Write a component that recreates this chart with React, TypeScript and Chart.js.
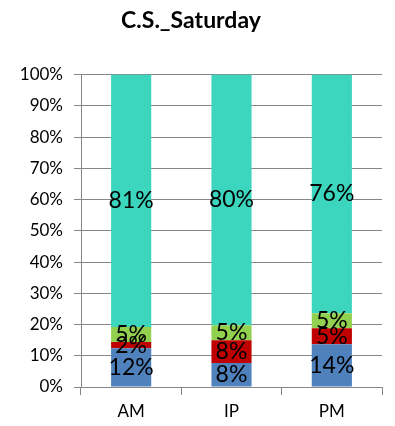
import React, { useEffect, useRef } from "react";
import { Chart, registerables } from "chart.js";

Chart.register(...registerables);

const categories = ["AM", "IP", "PM"];
const seriesNames = ["S1", "S2", "S3", "S4"];
const blueValues = [12.4, 7.7, 13.7];
const redValues = [2.0, 7.3, 5.1];
const greenValues = [4.8, 4.8, 4.8];
const tealValues = [80.8, 80.2, 76.4];
const blueLabels = ["12%", "8%", "14%"];
const redLabels = ["2%", "8%", "5%"];
const greenLabels = ["5%", "5%", "5%"];
const tealLabels = ["81%", "80%", "76%"];
const colors = ["#4F81BD", "#C00000", "#92D050", "#3CD5BE"];
const FONT = "Lato, 'Open Sans', sans-serif";

const segLabelPlugin = {
  id: "segLabels",
  afterDatasetsDraw(chart: any) {
    const ctx = chart.ctx;
    ctx.save();
    ctx.font = `23px ${FONT}`;
    ctx.fillStyle = "#000";
    ctx.textAlign = "center";
    ctx.textBaseline = "middle";
    chart.data.datasets.forEach((ds: any, i: number) => {
      const meta = chart.getDatasetMeta(i);
      meta.data.forEach((el: any, j: number) => {
        const y = (el.y + el.base) / 2;
        ctx.fillText(ds.segLabels[j], el.x, y);
      });
    });
    ctx.restore();
  },
};

export default function App() {
  const ref = useRef<HTMLCanvasElement>(null);
  useEffect(() => {
    const values = [blueValues, redValues, greenValues, tealValues];
    const labels = [blueLabels, redLabels, greenLabels, tealLabels];
    const chart = new Chart(ref.current!, {
      type: "bar",
      data: {
        labels: categories,
        datasets: values.map((v, i) => ({
          label: seriesNames[i],
          data: v,
          backgroundColor: colors[i],
          borderWidth: 0,
          barPercentage: 0.8,
          categoryPercentage: 0.5,
          segLabels: labels[i],
        })) as any,
      },
      options: {
        animation: false,
        responsive: false,
        layout: { padding: { left: 0, right: 13, bottom: 0, top: 0 } },
        plugins: {
          legend: { display: false },
          tooltip: { enabled: false },
          title: {
            display: true,
            text: "C.S._Saturday",
            color: "#000",
            font: { family: FONT, size: 23, weight: "bold" },
            padding: { top: 7, bottom: 40 },
          },
        },
        scales: {
          x: {
            stacked: true,
            grid: {
              offset: true,
              drawOnChartArea: false,
              color: "#868686",
              tickLength: 8,
            },
            border: { color: "#868686" },
            ticks: {
              color: "#000",
              font: { family: FONT, size: 17 },
              padding: 6,
            },
            afterFit: (s: any) => {
              s.height = 39;
            },
          },
          y: {
            stacked: true,
            min: 0,
            max: 100,
            grid: { color: "#868686", tickLength: 7 },
            border: { color: "#868686" },
            ticks: {
              stepSize: 10,
              color: "#000",
              font: { family: FONT, size: 17 },
              padding: 11,
              callback: (v: any) => v + "%",
            },
            afterFit: (s: any) => {
              s.width = 81;
            },
          },
        },
      },
      plugins: [segLabelPlugin],
    });
    return () => chart.destroy();
  }, []);
  return (
    <div style={{ position: "fixed", left: 0, top: 0, width: 395, height: 426, background: "#fff" }}>
      <canvas ref={ref} width={395} height={426} />
    </div>
  );
}
